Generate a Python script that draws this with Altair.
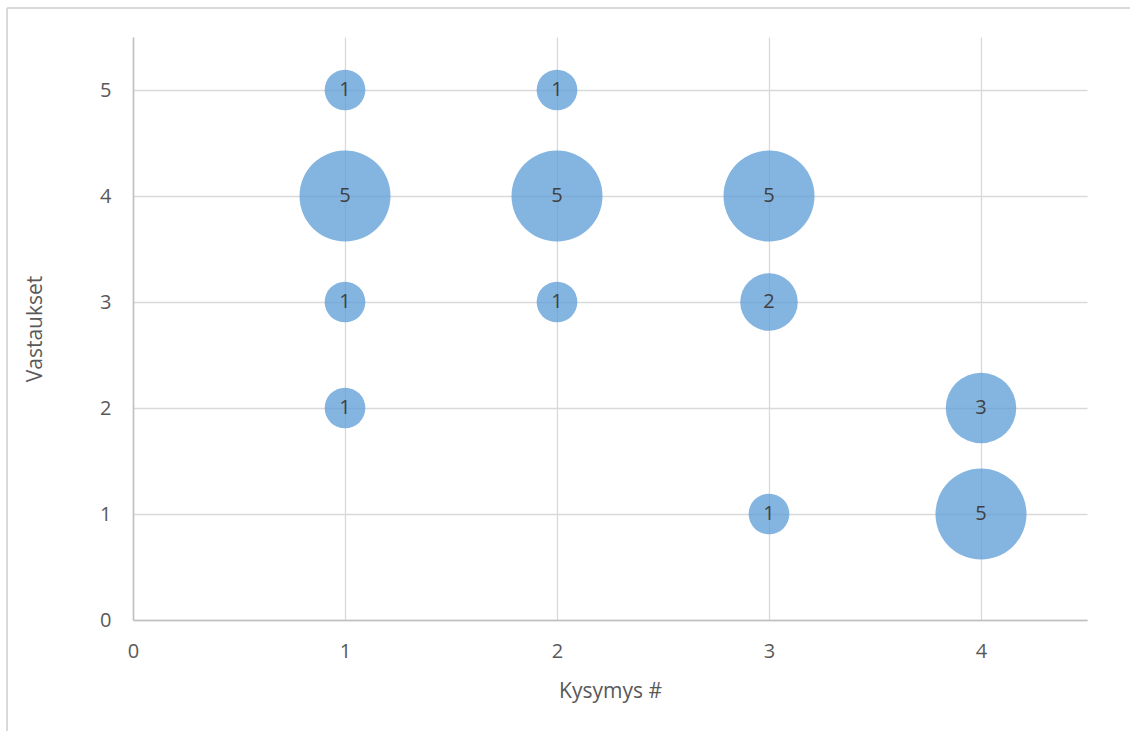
import altair as alt
import pandas as pd

# Bubble chart: survey question number vs. answer value, bubble = number of respondents
question = [1, 1, 1, 1, 2, 2, 2, 3, 3, 3, 4, 4]
answer = [5, 4, 3, 2, 5, 4, 3, 4, 3, 1, 2, 1]
count = [1, 5, 1, 1, 1, 5, 1, 5, 2, 1, 3, 5]

x_ticks = [0, 1, 2, 3, 4]
y_ticks = [0, 1, 2, 3, 4, 5]

df = pd.DataFrame({"q": question, "a": answer, "n": count})

FONT = "Open Sans"
TEXT = "#595959"
GRID = "#D9D9D9"
AXIS = "#BFBFBF"

x_enc = alt.X(
    "q:Q",
    scale=alt.Scale(domain=[0, 4.5], nice=False, zero=False),
    axis=alt.Axis(
        title="Kysymys #", values=x_ticks, format="d",
        grid=True, gridColor=GRID, gridWidth=1.3,
        domainColor=AXIS, domainWidth=1.5, ticks=False,
        labelPadding=21, titlePadding=19, labelFlush=False,
    ),
)
y_enc = alt.Y(
    "a:Q",
    scale=alt.Scale(domain=[0, 5.5], nice=False, zero=False),
    axis=alt.Axis(
        title="Vastaukset", values=y_ticks, format="d",
        grid=True, gridColor=GRID, gridWidth=1.3,
        domainColor=AXIS, domainWidth=1.5, ticks=False,
        labelPadding=22, titlePadding=54, labelFlush=False,
    ),
)

# bubble area proportional to the count; largest bubble ~91 px across
bubbles = alt.Chart(df).mark_circle(color="#5B9BD5", opacity=0.75).encode(
    x=x_enc,
    y=y_enc,
    size=alt.Size("n:Q", scale=alt.Scale(domain=[0, 5], range=[0, 8281], zero=True), legend=None),
)

labels = alt.Chart(df).mark_text(
    font=FONT, fontSize=20, color="#404040", baseline="middle", align="center"
).encode(x="q:Q", y="a:Q", text="n:Q")

# thin frame along the top and left of the chart
frame_top = alt.Chart(df).mark_rule(color=GRID, strokeWidth=2).encode(
    x=alt.value(-126), x2=alt.value(1000), y=alt.value(-29)
)
frame_left = alt.Chart(df).mark_rule(color=GRID, strokeWidth=2).encode(
    x=alt.value(-126), y=alt.value(-29), y2=alt.value(700)
)

chart = (
    alt.layer(frame_top, frame_left, bubbles, labels)
    .properties(
        width=954, height=583,
        autosize=alt.AutoSizeParams(type="none"),
        padding={"left": 133, "top": 37, "right": 43, "bottom": 111},
    )
    .configure_view(stroke=None)
    .configure_axis(
        labelFont=FONT, labelFontSize=20, labelColor=TEXT,
        titleFont=FONT, titleFontSize=21, titleColor=TEXT, titleFontWeight="normal",
    )
)

chart.save("out.html", embed_options={"renderer": "svg", "actions": False})
